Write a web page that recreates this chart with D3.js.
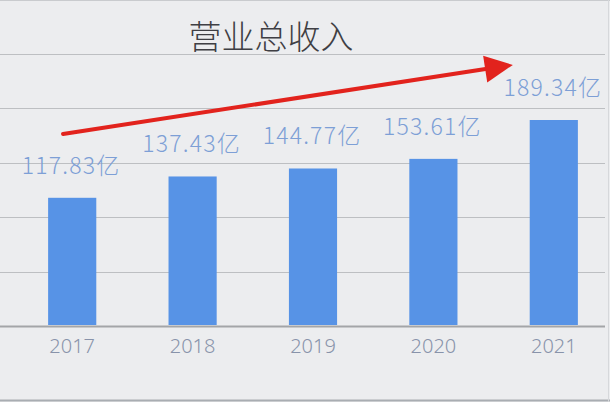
<!DOCTYPE html>
<html>
<head>
<meta charset="utf-8">
<script src="https://cdn.jsdelivr.net/npm/d3@7"></script>
<style>
  html, body { margin: 0; padding: 0; background: #ecedef; }
  svg { display: block; }
</style>
</head>
<body>
<svg id="chart"></svg>
<script>
// Chart data
const years = ["2017", "2018", "2019", "2020", "2021"];
const revenue = [117.83, 137.43, 144.77, 153.61, 189.34];
const yTicks = [0, 50, 100, 150, 200, 250];
const title = "营业总收入";
const unit = "亿";
// trend arrow annotation, in data terms: [year, offset in bandwidths, value]
const arrowFrom = ["2017", 0.31, 176.5];
const arrowTo = ["2021", -0.35, 240];

const W = 610, H = 402;

const svg = d3.select("#chart")
  .attr("width", W)
  .attr("height", H);

// Background and frame
svg.append("rect")
  .attr("x", 0).attr("y", 0)
  .attr("width", W).attr("height", H)
  .attr("fill", "#ecedef");

svg.append("line")
  .attr("x1", 0).attr("x2", W)
  .attr("y1", 0.5).attr("y2", 0.5)
  .attr("stroke", "#c9cbce");
svg.append("line")
  .attr("x1", 0).attr("x2", W)
  .attr("y1", 400.5).attr("y2", 400.5)
  .attr("stroke", "#a9adb2")
  .attr("stroke-width", 2);
svg.append("line")
  .attr("x1", 608.5).attr("x2", 608.5)
  .attr("y1", 0).attr("y2", H)
  .attr("stroke", "#d6d8db");

// Scales
const x = d3.scaleBand()
  .domain(years)
  .range([12, 614])
  .paddingInner(0.6)
  .paddingOuter(0.3);

const y = d3.scaleLinear()
  .domain([0, 250])
  .range([326, 54]);

// Gridlines
svg.append("g")
  .selectAll("line")
  .data(yTicks)
  .enter()
  .append("line")
  .attr("x1", 0)
  .attr("x2", 605)
  .attr("y1", d => Math.round(y(d)) + 0.5)
  .attr("y2", d => Math.round(y(d)) + 0.5)
  .attr("stroke", d => d === 0 ? "#a3a5a8" : "#bdbfc2")
  .attr("stroke-width", d => d === 0 ? 2 : 1.2);

// Bars
svg.selectAll(".bar")
  .data(revenue)
  .enter()
  .append("rect")
  .attr("class", "bar")
  .attr("x", (d, i) => x(years[i]))
  .attr("width", x.bandwidth())
  .attr("y", d => y(d))
  .attr("height", d => y(0) - y(d) - 1)
  .attr("fill", "#5793e6");

// Value labels
svg.selectAll(".bar-label")
  .data(revenue)
  .enter()
  .append("text")
  .attr("class", "bar-label")
  .attr("x", (d, i) => x(years[i]) + x.bandwidth() / 2 - 1)
  .attr("y", d => y(d) - 24)
  .attr("text-anchor", "middle")
  .style("font-family", "'Noto Sans CJK SC', 'Noto Sans', sans-serif")
  .style("font-size", "23px")
  .style("font-weight", "300")
  .style("letter-spacing", "1.2px")
  .style("fill", "#7d9fd6")
  .text(d => d3.format(".2f")(d) + unit);

// X-axis labels
svg.append("g")
  .attr("transform", `translate(0,${y(0)})`)
  .call(d3.axisBottom(x).tickSize(0).tickPadding(13))
  .call(g => g.select(".domain").remove())
  .selectAll("text")
  .style("font-family", "'Noto Sans', 'DejaVu Sans', sans-serif")
  .style("font-size", "20px")
  .style("font-weight", "300")
  .style("fill", "#8893aa");

// Title
svg.append("text")
  .attr("x", 271)
  .attr("y", 35)
  .attr("text-anchor", "middle")
  .attr("dominant-baseline", "central")
  .style("font-family", "'Noto Sans CJK SC', sans-serif")
  .style("font-size", "33px")
  .style("font-weight", "300")
  .style("fill", "#3f3f44")
  .text(title);

// Trend arrow
const ax = a => x(a[0]) + a[1] * x.bandwidth();
const x0 = ax(arrowFrom), y0 = y(arrowFrom[2]);
const x1 = ax(arrowTo), y1 = y(arrowTo[2]);
const ang = Math.atan2(y1 - y0, x1 - x0);
const headLen = 28, headHalf = 13.5;
const bx = x1 - headLen * Math.cos(ang), by = y1 - headLen * Math.sin(ang);

svg.append("line")
  .attr("x1", x0).attr("y1", y0)
  .attr("x2", bx + 2 * Math.cos(ang)).attr("y2", by + 2 * Math.sin(ang))
  .attr("stroke", "#e2231d")
  .attr("stroke-width", 4)
  .attr("stroke-linecap", "round");

svg.append("polygon")
  .attr("points", [
    [x1, y1],
    [bx + headHalf * Math.sin(ang), by - headHalf * Math.cos(ang)],
    [bx - headHalf * Math.sin(ang), by + headHalf * Math.cos(ang)]
  ].map(p => p.join(",")).join(" "))
  .attr("fill", "#e2231d");
</script>
</body>
</html>
